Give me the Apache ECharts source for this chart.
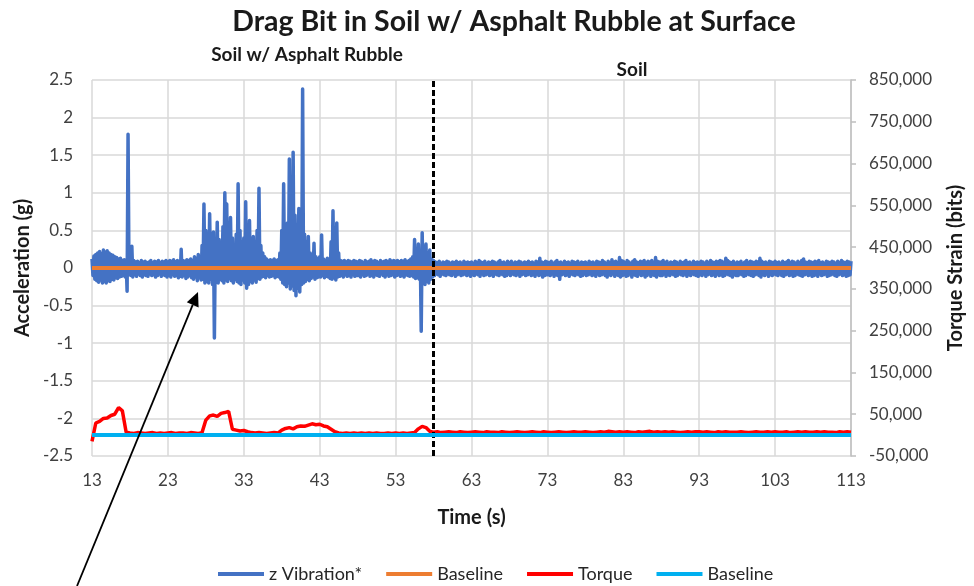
<!DOCTYPE html>
<html>
<head>
<meta charset="utf-8">
<title>Drag Bit in Soil w/ Asphalt Rubble at Surface</title>
<script src="https://cdn.jsdelivr.net/npm/echarts@6/dist/echarts.min.js"></script>
<style>
  html, body { margin: 0; padding: 0; background: #ffffff; }
  #chart { width: 974px; height: 586px; }
</style>
</head>
<body>
<div id="chart"></div>
<script>
// z vibration envelope, sampled every 0.25 s from 13 s.
// Upper peaks sit on the sample time, lower peaks half a step later.
const vibStart = 13;
const vibStep = 0.25;
const vibUpper = [
  .12,.16,.18,.2,.22,.19,.24,.21,.23,.2,.18,.17,.15,.14,.12,.13,.1,.11,.09,1.78,
  .12,.29,.1,.08,.09,.07,.1,.08,.09,.07,.08,.1,.07,.09,.08,.1,.07,.09,.08,.1,
  .08,.1,.09,.11,.08,.1,.09,.25,.1,.09,.11,.1,.12,.1,.15,.13,.18,.14,.3,.85,
  .5,.45,.72,.4,.48,.35,.61,.38,.3,.55,1.0,.85,.6,.67,.4,.3,.45,1.12,.5,.35,
  .4,.88,.45,.63,.35,.42,.3,.5,1.06,.3,.2,.15,.12,.1,.11,.1,.12,.1,.11,.2,
  .5,1.12,.55,.6,1.45,.5,1.54,.7,.55,.79,.5,2.38,.45,.35,.42,.2,.15,.33,.15,.12,
  .15,.44,.12,.1,.13,.12,.35,.76,.4,.6,.2,.1,.09,.1,.08,.1,.09,.08,.1,.09,
  .08,.1,.09,.07,.1,.08,.09,.11,.08,.1,.09,.07,.1,.08,.09,.1,.08,.11,.09,.1,
  .09,.1,.08,.1,.09,.11,.08,.1,.12,.15,.38,.2,.32,.2,.47,.25,.32,.2,.24,.12,
  .1,.08,.07,.09,.06,.08,.07,.09,.08,.06,.08,.07,.09,.07,.08,.06,.09,.07,.08,.07,
  .08,.06,.09,.07,.1,.08,.07,.09,.06,.08,.07,.09,.08,.06,.08,.1,.07,.08,.06,.09,
  .07,.09,.06,.08,.07,.09,.08,.06,.08,.07,.09,.07,.08,.06,.09,.08,.13,.08,.07,.09,
  .08,.07,.09,.06,.08,.1,.07,.08,.06,.09,.07,.08,.06,.09,.08,.07,.09,.06,.08,.07,
  .08,.06,.09,.07,.08,.06,.09,.08,.07,.1,.08,.06,.09,.07,.11,.08,.09,.07,.14,.1,
  .09,.07,.1,.08,.06,.09,.11,.08,.07,.09,.08,.1,.07,.09,.08,.1,.07,.14,.09,.08,
  .08,.1,.07,.09,.06,.08,.07,.09,.08,.06,.09,.07,.08,.1,.07,.08,.06,.09,.07,.08,
  .07,.09,.08,.06,.09,.07,.1,.08,.07,.09,.08,.1,.09,.07,.13,.1,.08,.07,.09,.06,
  .08,.07,.09,.06,.08,.1,.07,.09,.08,.07,.09,.08,.13,.09,.07,.08,.06,.09,.08,.07,
  .09,.07,.08,.06,.09,.07,.08,.1,.07,.09,.08,.06,.09,.07,.1,.12,.08,.07,.09,.08,
  .07,.09,.08,.1,.07,.08,.06,.09,.08,.07,.09,.08,.06,.09,.07,.1,.08,.07,.09,.08,
  .09
];
const vibLower = [
  -.1,-.15,-.17,-.19,-.16,-.2,-.18,-.2,-.17,-.18,-.15,-.16,-.13,-.14,-.12,-.11,-.1,-.12,-.31,-.09,
  -.1,-.12,-.09,-.11,-.08,-.1,-.12,-.09,-.1,-.11,-.08,-.1,-.09,-.12,-.1,-.08,-.11,-.09,-.1,-.12,
  -.1,-.12,-.09,-.11,-.1,-.13,-.11,-.12,-.1,-.14,-.12,-.1,-.13,-.15,-.12,-.17,-.13,-.16,-.15,-.2,
  -.18,-.2,-.15,-.22,-.93,-.18,-.2,-.15,-.17,-.2,-.16,-.18,-.14,-.17,-.2,-.15,-.18,-.2,-.22,-.16,
  -.2,-.27,-.22,-.18,-.2,-.16,-.19,-.14,-.15,-.12,-.11,-.13,-.1,-.12,-.11,-.1,-.13,-.11,-.12,-.15,
  -.2,-.22,-.25,-.2,-.28,-.24,-.3,-.37,-.27,-.32,-.22,-.2,-.18,-.15,-.17,-.14,-.12,-.15,-.13,-.12,
  -.12,-.1,-.13,-.11,-.12,-.14,-.15,-.13,-.16,-.12,-.11,-.1,-.12,-.09,-.11,-.1,-.12,-.09,-.11,-.1,
  -.1,-.12,-.09,-.11,-.1,-.08,-.11,-.1,-.12,-.09,-.1,-.11,-.08,-.1,-.12,-.09,-.11,-.1,-.09,-.12,
  -.1,-.09,-.11,-.1,-.12,-.09,-.1,-.11,-.1,-.12,-.14,-.13,-.15,-.84,-.2,-.22,-.18,-.2,-.15,-.12,
  -.1,-.08,-.09,-.11,-.08,-.09,-.1,-.08,-.09,-.1,-.08,-.11,-.09,-.08,-.1,-.09,-.08,-.1,-.09,-.11,
  -.09,-.1,-.08,-.09,-.11,-.08,-.1,-.09,-.08,-.1,-.09,-.11,-.08,-.09,-.1,-.08,-.09,-.11,-.1,-.08,
  -.1,-.08,-.09,-.1,-.08,-.11,-.09,-.08,-.1,-.09,-.08,-.1,-.09,-.11,-.08,-.1,-.09,-.12,-.1,-.09,
  -.09,-.1,-.08,-.11,-.09,-.1,-.15,-.09,-.08,-.1,-.09,-.11,-.08,-.09,-.1,-.08,-.09,-.11,-.1,-.08,
  -.1,-.09,-.08,-.1,-.09,-.11,-.08,-.1,-.09,-.08,-.1,-.12,-.09,-.1,-.08,-.11,-.09,-.1,-.12,-.1,
  -.09,-.11,-.1,-.08,-.12,-.09,-.1,-.11,-.08,-.1,-.09,-.12,-.1,-.08,-.11,-.09,-.1,-.12,-.09,-.1,
  -.1,-.08,-.11,-.09,-.1,-.08,-.09,-.11,-.1,-.08,-.09,-.1,-.08,-.11,-.09,-.1,-.08,-.09,-.1,-.11,
  -.09,-.1,-.08,-.11,-.09,-.08,-.1,-.09,-.11,-.08,-.1,-.09,-.11,-.1,-.08,-.09,-.1,-.12,-.09,-.1,
  -.1,-.08,-.09,-.11,-.1,-.08,-.09,-.1,-.11,-.09,-.08,-.1,-.12,-.09,-.1,-.08,-.11,-.09,-.1,-.08,
  -.09,-.1,-.08,-.1,-.11,-.09,-.08,-.1,-.09,-.11,-.1,-.08,-.09,-.1,-.11,-.09,-.08,-.1,-.09,-.11,
  -.1,-.09,-.11,-.08,-.1,-.09,-.08,-.11,-.1,-.09,-.08,-.1,-.11,-.09,-.08,-.1,-.09,-.11,-.1,-.09
];

// Torque strain (bits), sampled every 0.5 s from 13 s.
const torqueStart = 13;
const torqueStep = 0.5;
const torque = [
  -15000,29000,33000,40000,41000,47000,50000,66000,58000,7000,
  5000,4000,6000,5000,4000,5000,6000,4000,5000,4000,
  5000,6000,4000,5000,5000,4000,6000,5000,4000,6000,
  36000,46000,48000,45000,52000,54000,57000,14000,12000,10000,
  11000,8000,6000,5000,6000,5000,4000,5000,6000,5000,
  12000,16000,18000,15000,20000,22000,21000,24000,27000,25000,
  26000,22000,20000,14000,8000,5000,4000,5000,4000,5000,
  4000,5000,4000,5000,4000,5000,4000,4000,5000,4000,
  5000,4000,5000,4000,5000,6000,15000,21000,18000,9000,
  7000,8000,6000,7000,8000,7000,6000,8000,7000,6000,
  7000,8000,7000,6000,8000,7000,7000,6000,8000,7000,
  6000,7000,8000,7000,6000,7000,8000,7000,6000,8000,
  7000,6000,7000,8000,7000,6000,7000,8000,7000,7000,
  8000,7000,6000,7000,8000,7000,9000,8000,7000,8000,
  7000,8000,7000,6000,8000,7000,8000,9000,7000,8000,
  7000,8000,7000,8000,7000,6000,7000,8000,7000,8000,
  8000,7000,8000,7000,6000,8000,7000,8000,7000,7000,
  7000,8000,7000,6000,7000,8000,7000,7000,8000,7000,
  8000,7000,7000,8000,6000,7000,8000,7000,8000,7000,
  7000,8000,7000,8000,7000,7000,6000,8000,7000,8000,
  7000
];

// Reference levels
const baselineTimes = [13, 113];
const vibBaseline = [0, 0];
const torqueBaseline = [0, 0];

// Axis ticks
const timeTicks = [13, 23, 33, 43, 53, 63, 73, 83, 93, 103, 113];
const torqueTicks = [-50000, 50000, 150000, 250000, 350000, 450000, 550000, 650000, 750000, 850000];

// Time where the surface changes from rubble to plain soil
const boundaryTime = 58;

const seriesNames = ['z Vibration*', 'Baseline', 'Torque', 'Baseline '];

// ---- build series data ----
const vibData = [];
vibUpper.forEach(function (u, i) {
  const t = vibStart + i * vibStep;
  vibData.push([t, u]);
  if (i < vibLower.length) vibData.push([t + vibStep / 2, vibLower[i]]);
});
const torqueData = torque.map(function (v, i) { return [torqueStart + i * torqueStep, v]; });
const vibBaseData = baselineTimes.map(function (t, i) { return [t, vibBaseline[i]]; });
const torqueBaseData = baselineTimes.map(function (t, i) { return [t, torqueBaseline[i]]; });

const FONT = 'Lato, "Open Sans", sans-serif';
const GRID_GRAY = '#d9d9d9';
const LABEL = '#404040';
const DARK = '#1a1a1a';

function thousands(v) {
  return String(v).replace(/\B(?=(\d{3})+(?!\d))/g, ',');
}

const chart = echarts.init(document.getElementById('chart'), null, { renderer: 'canvas' });

chart.setOption({
  animation: false,
  backgroundColor: '#ffffff',
  textStyle: { fontFamily: FONT },
  grid: { left: 92, right: 119, top: 80, bottom: 130, containLabel: false },
  graphic: [
    { type: 'text', z: 100, style: { x: 514, y: 22, text: 'Drag Bit in Soil w/ Asphalt Rubble at Surface',
      align: 'center', verticalAlign: 'middle', fill: DARK, font: 'bold 28.5px ' + FONT } },
    { type: 'text', z: 100, style: { x: 307, y: 55, text: 'Soil w/ Asphalt Rubble',
      align: 'center', verticalAlign: 'middle', fill: DARK, font: 'bold 19px ' + FONT } },
    { type: 'text', z: 100, style: { x: 632, y: 70, text: 'Soil',
      align: 'center', verticalAlign: 'middle', fill: DARK, font: 'bold 19px ' + FONT } },
    // callout arrow
    { type: 'line', z: 100, shape: { x1: 77, y1: 586, x2: 192.7, y2: 304.9 },
      style: { stroke: '#000000', lineWidth: 1.8 } },
    { type: 'polygon', z: 100, shape: { points: [[198, 292], [198.6, 307.6], [186.8, 302.2]] },
      style: { fill: '#000000' } }
  ],
  legend: {
    data: seriesNames,
    left: 213,
    top: 560,
    icon: 'rect',
    itemWidth: 46,
    itemHeight: 4,
    itemGap: 24,
    formatter: function (name) { return name.trim(); },
    textStyle: { fontFamily: FONT, fontSize: 18, color: '#262626' }
  },
  xAxis: {
    type: 'value',
    min: 13,
    max: 113,
    name: 'Time (s)',
    nameLocation: 'middle',
    nameGap: 52,
    nameTextStyle: { fontFamily: FONT, fontSize: 20, fontWeight: 'bold', color: DARK },
    axisLine: { show: false },
    axisTick: { show: false, customValues: timeTicks },
    axisLabel: { customValues: timeTicks, fontFamily: FONT, fontSize: 17, color: LABEL, margin: 16 },
    splitLine: { show: true, lineStyle: { color: GRID_GRAY, width: 1.5 } }
  },
  yAxis: [
    {
      type: 'value',
      position: 'left',
      min: -2.5,
      max: 2.5,
      interval: 0.5,
      name: 'Acceleration (g)',
      nameLocation: 'middle',
      nameGap: 54,
      nameTextStyle: { fontFamily: FONT, fontSize: 20, fontWeight: 'bold', color: DARK },
      axisLine: { show: false },
      axisTick: { show: false },
      axisLabel: { fontFamily: FONT, fontSize: 17, color: LABEL, margin: 19 },
      splitLine: { show: true, lineStyle: { color: GRID_GRAY, width: 1.5 } }
    },
    {
      type: 'value',
      position: 'right',
      min: -50000,
      max: 850000,
      name: 'Torque Strain (bits)',
      nameLocation: 'middle',
      nameGap: 95,
      nameTextStyle: { fontFamily: FONT, fontSize: 20, fontWeight: 'bold', color: DARK },
      axisLine: { show: true, lineStyle: { color: '#bfbfbf', width: 1.5 } },
      axisTick: { show: true, inside: false, length: 5, customValues: torqueTicks,
        lineStyle: { color: '#bfbfbf', width: 1.5 } },
      axisLabel: { customValues: torqueTicks, formatter: thousands,
        fontFamily: FONT, fontSize: 17, color: LABEL, margin: 18 },
      splitLine: { show: false }
    }
  ],
  series: [
    {
      name: seriesNames[0], type: 'line', yAxisIndex: 0, data: vibData,
      symbol: 'none', sampling: null, z: 2,
      lineStyle: { color: '#4472c4', width: 3.5, join: 'round' }, itemStyle: { color: '#4472c4' }
    },
    {
      name: seriesNames[1], type: 'line', yAxisIndex: 0, data: vibBaseData,
      symbol: 'none', z: 3,
      lineStyle: { color: '#ed7d31', width: 4 }, itemStyle: { color: '#ed7d31' }
    },
    {
      name: seriesNames[2], type: 'line', yAxisIndex: 1, data: torqueData,
      symbol: 'none', z: 4,
      lineStyle: { color: '#ff0000', width: 3.5 }, itemStyle: { color: '#ff0000' }
    },
    {
      name: seriesNames[3], type: 'line', yAxisIndex: 1, data: torqueBaseData,
      symbol: 'none', z: 5,
      lineStyle: { color: '#00b0f0', width: 4 }, itemStyle: { color: '#00b0f0' },
      markLine: {
        silent: true,
        symbol: ['none', 'none'],
        label: { show: false },
        lineStyle: { color: '#000000', type: [6, 3], width: 3 },
        data: [{ xAxis: boundaryTime }]
      }
    }
  ]
});
</script>
</body>
</html>
